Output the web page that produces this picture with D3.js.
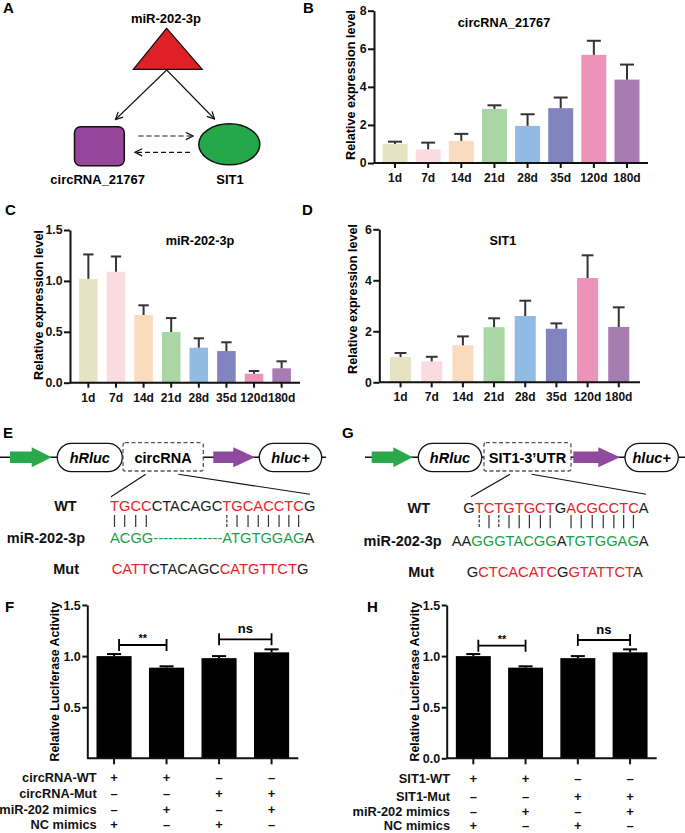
<!DOCTYPE html>
<html><head><meta charset="utf-8">
<script src="https://cdn.jsdelivr.net/npm/d3@7/dist/d3.min.js"></script>
<style>
html,body{margin:0;padding:0;background:#fff;}
svg{display:block;font-family:"Liberation Sans",Arial,sans-serif;}
</style></head>
<body>
<svg id="fig" width="685" height="833"></svg>
<script>
// ---------------- DATA ----------------
const categories = ["1d","7d","14d","21d","28d","35d","120d","180d"];
const barColors = ["#e6e2c4","#f9dbe0","#fadbbd","#aad5a4","#91bbe3","#8284c0","#ec93ba","#a67cb3"];
const circMean = [1.00,0.72,1.16,2.84,1.95,2.88,5.68,4.38];
const circErr  = [0.12,0.35,0.37,0.19,0.61,0.56,0.74,0.79];
const mirMean  = [1.02,1.09,0.665,0.498,0.344,0.311,0.088,0.141];
const mirErr   = [0.24,0.15,0.095,0.137,0.092,0.086,0.027,0.069];
const sitMean  = [0.99,0.82,1.45,2.16,2.60,2.10,4.09,2.17];
const sitErr   = [0.16,0.18,0.35,0.35,0.60,0.21,0.89,0.77];
const circTicks = [0,2,4,6,8];
const mirTicks  = [0,0.5,1.0,1.5];
const sitTicks  = [0,2,4,6];

const lucGroups = ["g1","g2","g3","g4"];
const lucMeanF = [1.00,0.887,0.98,1.037];
const lucErrF  = [0.02,0.013,0.02,0.029];
const lucMeanH = [1.00,0.887,0.98,1.037];
const lucErrH  = [0.02,0.013,0.02,0.029];
const lucTicksF = [0.5,1.0,1.5];
const lucTicksH = [0,0.5,1.0,1.5];
const tableRowsF = ["circRNA-WT","circRNA-Mut","miR-202 mimics","NC mimics"];
const tableRowsH = ["SIT1-WT","SIT1-Mut","miR-202 mimics","NC mimics"];
const tableSigns = [["+","+","–","–"],["–","–","+","+"],["–","+","–","+"],["+","–","+","–"]];

const seqE = {
  wt:  [["TGCC","red"],["CTACAGC","black"],["TGCACCTC","red"],["G","black"]],
  mirA:[["ACGG","green"]],
  mirB:[["ATGTGGAG","green"],["A","black"]],
  mut: [["CATT","red"],["CTACAGC","black"],["CATGTTCT","red"],["G","black"]],
  pairs:[0,1,2,3,11,12,13,14,15,16,17,18], dashedPairs:[11]
};
const seqG = {
  wt:  [["G","black"],["TCTGTGCT","red"],["G","black"],["ACGCCTC","red"],["A","black"]],
  mir: [["AA","black"],["GGGTACGG","green"],["A","black"],["TGTGGAG","green"],["A","black"]],
  mut: [["G","black"],["CTCACATC","red"],["G","black"],["GTATTCT","red"],["A","black"]],
  pairs:[1,2,3,4,5,6,7,8,10,11,12,13,14,15,16], dashedPairs:[1,3]
};
const colorMap = {red:"#e8232a", green:"#1f9e48", black:"#1a1a1a"};

// ---------------- DRAW ----------------
const svg = d3.select("#fig");
const FONT = '"Liberation Sans",Arial,sans-serif';

function panelLabel(t,x,y){
  svg.append("text").attr("x",x).attr("y",y).attr("font-size",15).attr("font-weight","bold").text(t);
}

function styleAxis(g){
  g.selectAll("path,line").attr("stroke","#111").attr("stroke-width",2);
  g.selectAll("text").attr("font-family",FONT).attr("font-weight","bold").attr("fill","#111");
}

function expressionChart(o){
  const x = d3.scaleBand().domain(categories).range([o.x0,o.x1]).paddingInner(o.pi).paddingOuter(o.po);
  const y = d3.scaleLinear().domain([0,o.max]).range([o.y0,o.y1]);
  const g = svg.append("g");
  g.selectAll("rect.bar").data(categories).join("rect")
    .attr("x",d=>x(d)).attr("width",x.bandwidth())
    .attr("y",(d,i)=>y(o.mean[i])).attr("height",(d,i)=>y(0)-y(o.mean[i]))
    .attr("fill",(d,i)=>barColors[i]);
  const eb = g.selectAll("g.eb").data(categories).join("g");
  eb.append("line").attr("x1",d=>x(d)+x.bandwidth()/2).attr("x2",d=>x(d)+x.bandwidth()/2)
    .attr("y1",(d,i)=>y(o.mean[i])).attr("y2",(d,i)=>y(o.mean[i]+o.err[i]))
    .attr("stroke","#333").attr("stroke-width",2);
  eb.append("line").attr("x1",d=>x(d)+x.bandwidth()*0.22).attr("x2",d=>x(d)+x.bandwidth()*0.78)
    .attr("y1",(d,i)=>y(o.mean[i]+o.err[i])).attr("y2",(d,i)=>y(o.mean[i]+o.err[i]))
    .attr("stroke","#333").attr("stroke-width",2);
  const xa = g.append("g").attr("transform",`translate(0,${o.y0})`)
    .call(d3.axisBottom(x).tickSize(5).tickSizeOuter(0).tickPadding(o.xpad));
  xa.select(".domain").attr("d",`M${o.x0},0H${o.x1}`);
  styleAxis(xa); xa.selectAll("text").attr("font-size",o.xfs);
  const ya = g.append("g").attr("transform",`translate(${o.x0},0)`)
    .call(d3.axisLeft(y).tickValues(o.ticks).tickSize(6).tickSizeOuter(0).tickPadding(1.5).tickFormat(o.fmt));
  styleAxis(ya); ya.selectAll("text").attr("font-size",12.3);
  g.append("text").attr("x",o.tx).attr("y",o.ty).attr("text-anchor","middle")
    .attr("font-size",12.7).attr("font-weight","bold").text(o.title);
  g.append("text").attr("transform",`translate(${o.lx},${o.ly}) rotate(-90)`)
    .attr("text-anchor","middle").attr("dominant-baseline","central")
    .attr("font-size",12.6).attr("font-weight","bold").text("Relative expression level");
}

function lucChart(o){
  const x = d3.scaleBand().domain(lucGroups).range([o.x0,o.x1]).paddingInner(0.331).paddingOuter(0.175);
  const y = d3.scaleLinear().domain([0,1.5]).range([o.y0,o.y1]);
  const g = svg.append("g");
  g.selectAll("rect.bar").data(lucGroups).join("rect")
    .attr("x",d=>x(d)).attr("width",x.bandwidth())
    .attr("y",(d,i)=>y(o.mean[i])).attr("height",(d,i)=>y(0)-y(o.mean[i]))
    .attr("fill","#000");
  const eb = g.selectAll("g.eb").data(lucGroups).join("g");
  eb.append("line").attr("x1",d=>x(d)+x.bandwidth()/2).attr("x2",d=>x(d)+x.bandwidth()/2)
    .attr("y1",(d,i)=>y(o.mean[i])).attr("y2",(d,i)=>y(o.mean[i]+o.err[i]))
    .attr("stroke","#000").attr("stroke-width",2);
  eb.append("line").attr("x1",d=>x(d)+x.bandwidth()*0.3).attr("x2",d=>x(d)+x.bandwidth()*0.7)
    .attr("y1",(d,i)=>y(o.mean[i]+o.err[i])).attr("y2",(d,i)=>y(o.mean[i]+o.err[i]))
    .attr("stroke","#000").attr("stroke-width",2);
  const xa = g.append("g").attr("transform",`translate(0,${o.y0})`)
    .call(d3.axisBottom(x).tickSize(6).tickSizeOuter(0).tickFormat(""));
  xa.select(".domain").attr("d",`M${o.x0},0H${o.x1}`);
  styleAxis(xa);
  const ya = g.append("g").attr("transform",`translate(${o.x0},0)`)
    .call(d3.axisLeft(y).tickValues(o.ticks).tickSize(5).tickSizeOuter(0).tickPadding(1.5).tickFormat(d3.format(".1f")));
  styleAxis(ya); ya.selectAll("text").attr("font-size",12.5);
  g.append("text").attr("transform",`translate(${o.lx},681.7) rotate(-90)`)
    .attr("text-anchor","middle").attr("dominant-baseline","central")
    .attr("font-size",12.3).attr("font-weight","bold").text("Relative Luciferase Activity");
  // significance brackets
  const cx = i => x(lucGroups[i]) + x.bandwidth()/2;
  o.sig.forEach(s=>{
    const xa1 = cx(s.a)+(s.a===0?5:0), xa2 = cx(s.b);
    g.append("path").attr("d",`M${xa1},${s.y-6}V${s.y+6}M${xa1},${s.y}H${xa2}M${xa2},${s.y-6}V${s.y+6}`)
      .attr("fill","none").attr("stroke","#000").attr("stroke-width",1.8);
    g.append("text").attr("x",(xa1+xa2)/2).attr("y",s.y-(s.label==="**"?3:6))
      .attr("text-anchor","middle").attr("font-size",s.label==="**"?11:13).attr("font-weight","bold").text(s.label);
  });
  // table
  o.rows.forEach((r,ri)=>{
    g.append("text").attr("x",o.labx).attr("y",o.rowY[ri]+4.4).attr("text-anchor","end")
      .attr("font-size",12.8).attr("font-weight","bold").attr("fill","#111").text(r);
    tableSigns[ri].forEach((s,ci)=>{
      g.append("text").attr("x",cx(ci)).attr("y",o.rowY[ri]+4.4).attr("text-anchor","middle")
        .attr("font-size",13).attr("font-weight","bold").attr("fill","#111").text(s);
    });
  });
}

// Panel A
panelLabel("A",3,13);
(function(){
  const defs = svg.append("defs");
  defs.append("marker").attr("id","vhead").attr("viewBox","0 0 10 10").attr("refX",9).attr("refY",5)
    .attr("markerWidth",9).attr("markerHeight",9).attr("markerUnits","userSpaceOnUse").attr("orient","auto")
    .append("path").attr("d","M1,1L9,5L1,9").attr("fill","none").attr("stroke","#111").attr("stroke-width",1.4);
  svg.append("text").attr("x",166).attr("y",22.5).attr("text-anchor","middle").attr("font-size",13).attr("font-weight","bold").text("miR-202-3p");
  svg.append("path").attr("d","M166.7,28.3L202.3,69.3L133.3,69.3Z").attr("fill","#e02027").attr("stroke","#111").attr("stroke-width",1.2);
  svg.append("line").attr("x1",166.7).attr("y1",70).attr("x2",115.5).attr("y2",119.5).attr("stroke","#111").attr("stroke-width",1.1).attr("marker-end","url(#vhead)");
  svg.append("line").attr("x1",166.7).attr("y1",70).attr("x2",214.5).attr("y2",119).attr("stroke","#111").attr("stroke-width",1.1).attr("marker-end","url(#vhead)");
  svg.append("rect").attr("x",74.5).attr("y",126.7).attr("width",49.8).attr("height",39).attr("rx",6).attr("fill","#96479b").attr("stroke","#111").attr("stroke-width",1.5);
  svg.append("ellipse").attr("cx",229.3).attr("cy",144.3).attr("rx",30.5).attr("ry",20.5).attr("fill","#25a84a").attr("stroke","#111").attr("stroke-width",1.5);
  svg.append("line").attr("x1",138.5).attr("y1",136).attr("x2",193).attr("y2",136).attr("stroke","#111").attr("stroke-width",1.2).attr("stroke-dasharray","5,3").attr("marker-end","url(#vhead)");
  svg.append("line").attr("x1",190).attr("y1",152.3).attr("x2",135).attr("y2",152.3).attr("stroke","#111").attr("stroke-width",1.2).attr("stroke-dasharray","5,3").attr("marker-end","url(#vhead)");
  svg.append("text").attr("x",97.7).attr("y",183.5).attr("text-anchor","middle").attr("font-size",13).attr("font-weight","bold").text("circRNA_21767");
  svg.append("text").attr("x",230).attr("y",183.5).attr("text-anchor","middle").attr("font-size",13).attr("font-weight","bold").text("SIT1");
})();

// Panel B
panelLabel("B",303,13);
expressionChart({x0:374,x1:648,y0:163,y1:10.7,max:8,pi:0.246,po:0.257,mean:circMean,err:circErr,
  ticks:circTicks,fmt:d3.format("d"),xpad:5.5,xfs:12,title:"circRNA_21767",tx:504,ty:26.5,lx:351,ly:85});
// Panel C
panelLabel("C",5,215);
expressionChart({x0:70,x1:300,y0:382.7,y1:230,max:1.5,pi:0.328,po:0.329,mean:mirMean,err:mirErr,
  ticks:mirTicks,fmt:d3.format(".1f"),xpad:5.5,xfs:12,title:"miR-202-3p",tx:200,ty:244.5,lx:39,ly:305});
// Panel D
panelLabel("D",302,215);
expressionChart({x0:379.3,x1:640,y0:382.3,y1:229.3,max:6,pi:0.325,po:0.344,mean:sitMean,err:sitErr,
  ticks:sitTicks,fmt:d3.format("d"),xpad:5,xfs:12,title:"SIT1",tx:503,ty:245,lx:352.7,ly:299});

// Constructs
function construct(o){
  const g = svg.append("g");
  const cy = 457.3;
  g.append("line").attr("x1",o.lineStart).attr("x2",o.lineEnd).attr("y1",cy).attr("y2",cy).attr("stroke","#111").attr("stroke-width",1.6);
  const arrow = (x0,xh,x1,col)=> g.append("path")
    .attr("d",`M${x0},${cy-5.8}H${xh}V${cy-10}L${x1},${cy}L${xh},${cy+10}V${cy+5.8}H${x0}Z`).attr("fill",col);
  arrow(o.ga[0],o.ga[1],o.ga[2],"#2aa84a");
  arrow(o.pa[0],o.pa[1],o.pa[2],"#8e4a9d");
  const pill = (x0,x1,t)=>{
    g.append("rect").attr("x",x0).attr("y",443.3).attr("width",x1-x0).attr("height",28.4).attr("rx",14.2)
      .attr("fill","#fff").attr("stroke","#111").attr("stroke-width",1.3);
    g.append("text").attr("x",(x0+x1)/2).attr("y",cy+5.3).attr("text-anchor","middle").attr("font-size",14.5)
      .attr("font-weight","bold").attr("font-style","italic").text(t);
  };
  pill(o.p1[0],o.p1[1],"hRluc");
  pill(o.p2[0],o.p2[1],"hluc+");
  g.append("rect").attr("x",o.box[0]).attr("y",442.7).attr("width",o.box[1]-o.box[0]).attr("height",28.3).attr("rx",2)
    .attr("fill","#fff").attr("stroke","#555").attr("stroke-width",1.3).attr("stroke-dasharray","4,2.5");
  g.append("text").attr("x",(o.box[0]+o.box[1])/2).attr("y",cy+5.3).attr("text-anchor","middle").attr("font-size",14.5)
    .attr("font-weight","bold").text(o.boxText);
  g.append("line").attr("x1",o.l1[0]).attr("y1",474.3).attr("x2",o.l1[1]).attr("y2",496.7).attr("stroke","#111").attr("stroke-width",1.1);
  g.append("line").attr("x1",o.l2[0]).attr("y1",474.3).attr("x2",o.l2[1]).attr("y2",494.3).attr("stroke","#111").attr("stroke-width",1.1);
}
function seqText(x,y,segs){
  const t = svg.append("text").attr("x",x).attr("y",y).attr("font-size",14.7).attr("xml:space","preserve");
  segs.forEach(s=> t.append("tspan").attr("fill",colorMap[s[1]]).text(s[0]));
  return t;
}
function rowLabel(x,y,t){
  svg.append("text").attr("x",x).attr("y",y).attr("text-anchor","end").attr("font-size",14.5).attr("font-weight","bold").attr("fill","#111").text(t);
}
function pairLines(wtNode,pairs,dashed,y1,y2){
  pairs.forEach(i=>{
    const e = wtNode.getExtentOfChar(i);
    const cx = e.x + e.width/2;
    svg.append("line").attr("x1",cx).attr("x2",cx).attr("y1",y1).attr("y2",y2).attr("stroke","#333").attr("stroke-width",1.2)
      .attr("stroke-dasharray",dashed.includes(i)?"3,1.5":null);
  });
}

// Panel E
panelLabel("E",3,438);
construct({lineStart:0,lineEnd:326,ga:[10,31.7,51.7],pa:[213.3,233.3,255],p1:[57.3,122.3],p2:[259.3,321.7],
  box:[123,203.3],boxText:"circRNA",l1:[145.7,111],l2:[178.3,310]});
rowLabel(76.7,511.3,"WT"); rowLabel(85,542.6,"miR-202-3p"); rowLabel(79,573.6,"Mut");
(function(){
  const wt = seqText(110,511.3,seqE.wt);
  const n = wt.node();
  pairLines(n,seqE.pairs,seqE.dashedPairs,515,527);
  const a = seqText(110,542.6,seqE.mirA);
  const aEnd = 110 + a.node().getComputedTextLength();
  const bStart = n.getExtentOfChar(11).x;
  svg.append("text").attr("x",aEnd).attr("y",542.6).attr("font-size",14.7).attr("fill",colorMap.green)
    .attr("textLength",bStart-aEnd).attr("lengthAdjust","spacingAndGlyphs").text("--------------");
  seqText(bStart,542.6,seqE.mirB);
  seqText(111.7,573.6,seqE.mut);
})();

// Panel G
panelLabel("G",342,438);
construct({lineStart:365,lineEnd:685,ga:[371.7,393.3,412.7],pa:[573.3,598.3,620],p1:[418.3,481.7],p2:[625,678.3],
  box:[484,571],boxText:"SIT1-3’UTR",l1:[510,471],l2:[531.7,646]});
rowLabel(430,512.6,"WT"); rowLabel(441.7,546,"miR-202-3p"); rowLabel(434,577,"Mut");
(function(){
  const wt = seqText(463.3,512.6,seqG.wt);
  pairLines(wt.node(),seqG.pairs,seqG.dashedPairs,515,528.3);
  seqText(451.7,546,seqG.mir);
  seqText(466.7,577,seqG.mut);
})();

// Panel F
panelLabel("F",5,612);
lucChart({x0:87.3,x1:298.3,y0:758.3,y1:605,mean:lucMeanF,err:lucErrF,ticks:lucTicksF,lx:55,
  sig:[{a:0,b:1,y:645,label:"**"},{a:2,b:3,y:639.3,label:"ns"}],
  rows:tableRowsF,labx:96.7,rowY:[777.3,794,809.3,824.3]});
// Panel H
panelLabel("H",367,612);
lucChart({x0:446.7,x1:656.7,y0:758.3,y1:605,mean:lucMeanH,err:lucErrH,ticks:lucTicksH,lx:415,
  sig:[{a:0,b:1,y:645.7,label:"**"},{a:2,b:3,y:640,label:"ns"}],
  rows:tableRowsH,labx:450,rowY:[779,797,811.3,825.5]});
</script>
</body></html>
